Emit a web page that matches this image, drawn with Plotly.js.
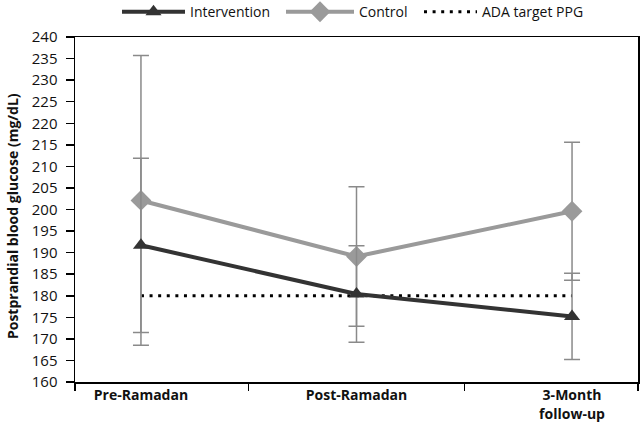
<!DOCTYPE html>
<html>
<head>
<meta charset="utf-8">
<script src="https://cdn.plot.ly/plotly-3.0.1.min.js"></script>
<style>html,body{margin:0;padding:0;background:#fff;}#chart{width:640px;height:426px;}</style>
</head>
<body>
<div id="chart"></div>
<script>
var categories = ["Pre-Ramadan", "Post-Ramadan", "3-Month<br>follow-up"];
var interventionMean = [191.7, 180.4, 175.2];
var interventionErr = [20.2, 11.2, 10.0];
var controlMean = [202.1, 189.1, 199.6];
var controlErr = [33.6, 16.2, 16.0];
var adaTarget = [180, 180, 180];
var yTicks = [160,165,170,175,180,185,190,195,200,205,210,215,220,225,230,235,240];
var yTitle = "Postprandial blood glucose (mg/dL)";

var xpos = categories.map(function(c, i){ return i; });
var font = "'Open Sans', 'Noto Sans', sans-serif";

var traces = [
  {
    x: xpos, y: adaTarget, name: "ADA target PPG", mode: "lines", type: "scatter",
    line: {color: "#000", width: 3, dash: "3px,5.6px"}, legend: "legend3", hoverinfo: "skip"
  },
  {
    x: xpos, y: controlMean, name: "Control", mode: "lines+markers", type: "scatter",
    line: {color: "#9a9a9a", width: 4},
    marker: {symbol: "diamond", size: 16, color: "#9a9a9a"},
    error_y: {type: "data", array: controlErr, visible: true, color: "#8a8a8a", thickness: 1.5, width: 8},
    legend: "legend2"
  },
  {
    x: xpos, y: interventionMean, name: "Intervention", mode: "lines+markers", type: "scatter",
    line: {color: "#333333", width: 4},
    marker: {symbol: "triangle-up", size: 14, color: "#333333"},
    error_y: {type: "data", array: interventionErr, visible: true, color: "#8a8a8a", thickness: 1.5, width: 8},
    legend: "legend"
  },
  {
    x: [0], y: [200], xaxis: "x2", showlegend: false, mode: "markers",
    marker: {opacity: 0}, hoverinfo: "skip"
  }
];

function legendAt(px, w) {
  return {orientation: "h", x: (px - 75) / 563, xanchor: "left", y: 1.072, yanchor: "middle",
          bgcolor: "rgba(0,0,0,0)", itemwidth: w,
          font: {family: font, size: 14, color: "#111"}};
}

var xr = [-0.306, 2.306];
var layout = {
  width: 640, height: 426,
  margin: {l: 75, r: 2, t: 37, b: 44, autoexpand: false},
  paper_bgcolor: "#fff", plot_bgcolor: "#fff",
  font: {family: font, size: 14, color: "#111"},
  showlegend: true,
  legend: legendAt(117, 63),
  legend2: legendAt(281, 68),
  legend3: legendAt(419, 53),
  xaxis: {
    type: "linear", range: xr, tickmode: "array", tickvals: xpos, ticktext: categories,
    ticks: "", showgrid: false, zeroline: false, showline: true, linecolor: "#000", linewidth: 1.5,
    mirror: true, tickfont: {family: font, size: 14, color: "#111", weight: "bold"}
  },
  xaxis2: {
    overlaying: "x", side: "bottom", type: "linear", range: xr, tickmode: "array",
    tickvals: [-0.3055, 0.5, 1.5, 2.3055], showticklabels: false, ticks: "outside", ticklen: 8,
    tickwidth: 1.5, tickcolor: "#000", showgrid: false, zeroline: false, showline: false
  },
  yaxis: {
    range: [160, 240], tickmode: "array", tickvals: yTicks, ticks: "outside", ticklen: 8,
    tickwidth: 1.5, tickcolor: "#000", showgrid: false, zeroline: false, showline: true,
    linecolor: "#000", linewidth: 1.5, mirror: true, ticklabelstandoff: 5,
    tickfont: {family: font, size: 15, color: "#111"}
  },
  annotations: [{
    text: yTitle, xref: "paper", yref: "paper", x: (12 - 75) / 563, y: 0.481,
    xanchor: "center", yanchor: "middle", textangle: -90, showarrow: false,
    font: {family: font, size: 14, color: "#111", weight: "bold"}
  }]
};

Plotly.newPlot("chart", traces, layout, {staticPlot: true, displayModeBar: false});
</script>
</body>
</html>
